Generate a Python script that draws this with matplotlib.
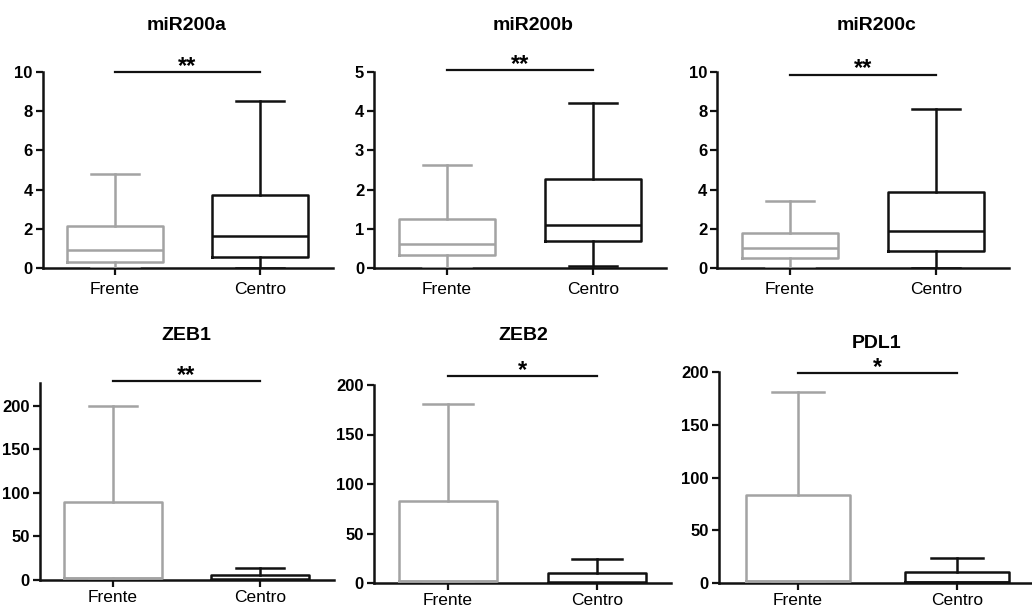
import matplotlib
matplotlib.use("Agg")
import matplotlib.pyplot as plt

plt.rcParams["font.family"] = ["Liberation Sans", "DejaVu Sans"]

# groups compared in every panel
groups = ["Frente", "Centro"]
gray = "#a3a3a3"
black = "#111111"

# five-number summaries per marker: (whislo, q1, med, q3, whishi)
titles = ["miR200a", "miR200b", "miR200c", "ZEB1", "ZEB2", "PDL1"]
frente_stats = [
    (0.0, 0.3, 0.9, 2.12, 4.82),
    (0.0, 0.33, 0.6, 1.26, 2.63),
    (0.0, 0.5, 1.0, 1.8, 3.4),
    (0.0, 2.0, 2.0, 89.0, 200.0),
    (0.0, 2.0, 2.0, 83.0, 181.0),
    (0.0, 2.0, 2.0, 83.0, 181.0),
]
centro_stats = [
    (0.0, 0.55, 1.65, 3.72, 8.5),
    (0.04, 0.7, 1.1, 2.27, 4.22),
    (0.0, 0.85, 1.9, 3.9, 8.1),
    (0.0, 0.5, 1.0, 5.5, 13.5),
    (0.0, 0.5, 1.0, 10.5, 24.0),
    (0.0, 0.5, 1.0, 10.5, 24.0),
]
significance = ["**", "**", "**", "**", "*", "*"]
bar_heights = [10.0, 5.05, 9.85, 228.0, 209.0, 199.0]
y_limits = [10, 5, 10, 226, 200, 200]
y_ticks = [
    [0, 2, 4, 6, 8, 10],
    [0, 1, 2, 3, 4, 5],
    [0, 2, 4, 6, 8, 10],
    [0, 50, 100, 150, 200],
    [0, 50, 100, 150, 200],
    [0, 50, 100, 150, 200],
]

W, H = 1032, 607
# pixel layout of each panel: x of Frente tick, x of Centro tick, top, bottom
layout = [
    (115, 260, 72, 268),
    (447, 593, 72, 268),
    (790, 936, 72, 268),
    (113, 260, 383, 580),
    (448, 597, 385, 583),
    (798, 957, 372, 583),
]
title_pos = [(187, 25), (533, 25), (877, 25), (186, 335), (523, 335), (877, 343)]

fig = plt.figure(figsize=(W / 100, H / 100), dpi=100)


def summary(s, label):
    lo, q1, med, q3, hi = s
    return {"label": label, "whislo": lo, "q1": q1, "med": med,
            "q3": q3, "whishi": hi, "fliers": []}


for i in range(6):
    fx, cx, top, bottom = layout[i]
    step = cx - fx
    left = fx - step / 2
    right = cx + step / 2
    ax = fig.add_axes([left / W, 1 - bottom / H, (right - left) / W, (bottom - top) / H])

    for pos, stats, col in [(1, frente_stats[i], gray), (2, centro_stats[i], black)]:
        props = dict(color=col, linewidth=1.8)
        ax.bxp([summary(stats, groups[pos - 1])], positions=[pos], widths=0.66,
               showfliers=False, boxprops=props, whiskerprops=props,
               capprops=props, medianprops=props, capwidths=0.33)

    ax.set_xlim(0.5, 2.5)
    ax.set_ylim(0, y_limits[i])
    ax.set_yticks(y_ticks[i])
    ax.set_xticks([1, 2])
    ax.set_xticklabels(groups, fontsize=12.5)
    for lab in ax.get_yticklabels():
        lab.set_fontweight("bold")
        lab.set_fontsize(12)
    ax.tick_params(axis="both", direction="out", length=5, width=1.6, color=black, pad=2)
    ax.tick_params(axis="x", pad=5 if i < 3 else 2)
    for side in ["top", "right"]:
        ax.spines[side].set_visible(False)
    for side in ["left", "bottom"]:
        ax.spines[side].set_linewidth(1.8)
        ax.spines[side].set_color(black)
        ax.spines[side].set_zorder(1)

    # significance bracket between the two groups
    ax.plot([1, 2], [bar_heights[i]] * 2, color=black, linewidth=1.6, clip_on=False)
    ax.annotate(significance[i], xy=(1.5, bar_heights[i]), xytext=(0, -4),
                textcoords="offset points", ha="center", va="bottom",
                fontsize=17, fontweight="bold", annotation_clip=False)

    tx, ty = title_pos[i]
    fig.text(tx / W, 1 - ty / H, titles[i], ha="center", va="center",
             fontsize=14, fontweight="bold")

fig.savefig("out.png", dpi=100)
